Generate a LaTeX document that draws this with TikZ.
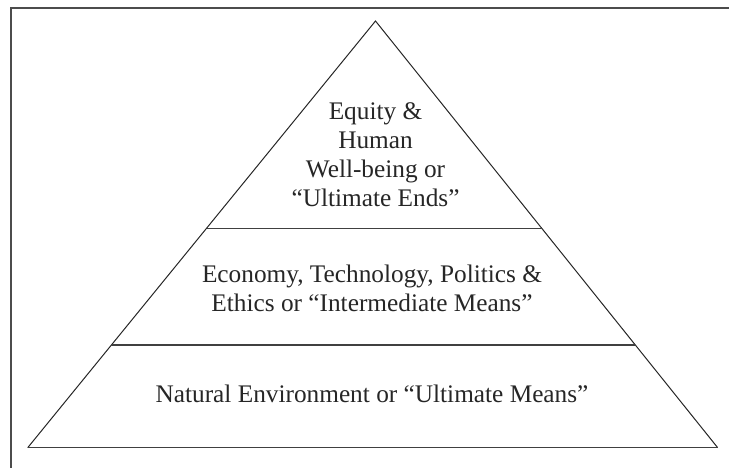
\documentclass[tikz,border=0pt]{standalone}
\usepackage{fontspec}
\setmainfont{Liberation Serif}
\usetikzlibrary{calc}
\begin{document}
\begin{tikzpicture}[x=1pt,y=-1pt,
  frameline/.style={draw=black!70,line width=1.4pt},
  pyrline/.style={draw=black!85,line width=1pt,line join=miter},
  divline/.style={draw=black!75,line width=1.2pt},
  lbl/.style={font=\fontsize{25.3}{29}\selectfont,text=black!85,align=center,inner sep=0pt,anchor=base}]
\useasboundingbox (0,0) rectangle (729,468);
\draw[frameline] (11,468) -- (11,8) -- (729,8);
\coordinate (apex) at (375.5,21);
\coordinate (bl) at (27.7,447.7);
\coordinate (br) at (717.7,447.7);
\draw[pyrline] (bl) -- (apex) -- (br);
\draw[divline] (bl) -- (br);
\coordinate (d1l) at ($(apex)!0.4854!(bl)$);
\coordinate (d1r) at ($(apex)!0.4854!(br)$);
\coordinate (d2l) at ($(apex)!0.7595!(bl)$);
\coordinate (d2r) at ($(apex)!0.7595!(br)$);
\draw[divline] (d1l) -- (d1r);
\draw[divline] (d2l) -- (d2r);
\node[lbl] (top) at (375.5,207) {Equity \&\\Human\\Well-being or\\“Ultimate Ends”};
\node[lbl] (mid) at (372,311) {Economy, Technology, Politics \&\\Ethics or “Intermediate Means”};
\node[lbl] (bot) at (372,402) {Natural Environment or “Ultimate Means”};
\end{tikzpicture}
\end{document}
